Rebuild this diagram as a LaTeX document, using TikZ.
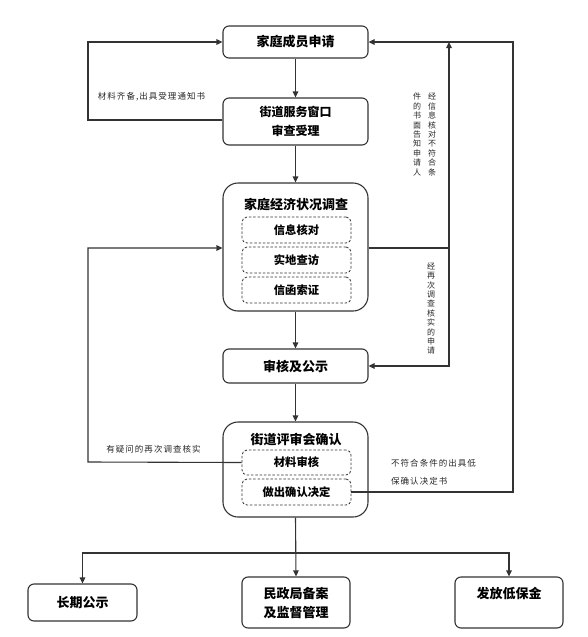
\documentclass[tikz,border=0pt]{standalone}
\usepackage{fontspec}
\newfontfamily\cjk{Noto Sans CJK SC}
\newfontfamily\cjklab{Noto Sans CJK SC}[LetterSpace=12]
\usetikzlibrary{arrows.meta}
\definecolor{ln}{HTML}{333333}
\tikzset{
  box/.style={draw=ln, line width=1.1pt, rounded corners=6pt, fill=white, align=center,
    font=\cjk\bfseries\fontsize{13}{19}\selectfont, inner sep=0pt},
  bigbox/.style={box, rounded corners=15pt},
  subbox/.style={draw=ln, line width=0.8pt, dashed, dash pattern=on 2.5pt off 1.8pt, rounded corners=5pt,
    minimum width=109pt, inner sep=0pt, font=\cjk\bfseries\fontsize{11.3}{14}\selectfont},
  title/.style={font=\cjk\bfseries\fontsize{13}{16}\selectfont, inner sep=0pt},
  lab/.style={font=\cjklab\fontsize{8.5}{18}\selectfont, inner sep=0pt, text=black!85},
  vlab/.style={font=\cjk\fontsize{8}{9.4}\selectfont, inner sep=0pt, align=center, text=black!85},
  conn/.style={draw=ln, line width=1.1pt},
  arr/.style={conn, -{Triangle[length=6pt,width=5.5pt]}},
}
\begin{document}
\begin{tikzpicture}[x=1pt,y=-1pt]
\useasboundingbox (0,0) rectangle (587,637);
% boxes
\node[box, minimum width=145pt, minimum height=32pt] (b1) at (295.5,42) {家庭成员申请};
\node[box, minimum width=145pt, minimum height=47pt, font=\cjk\bfseries\fontsize{12}{19}\selectfont] (b2) at (295.5,121.5) {街道服务窗口\\审查受理};
\node[bigbox, minimum width=145pt, minimum height=128pt] (b3) at (295.5,247) {};
\node[title] (t3) at (296,204) {家庭经济状况调查};
\node[subbox, minimum height=26pt] (s1) at (296.5,230) {信息核对};
\node[subbox, minimum height=26pt] (s2) at (296.5,260) {实地查访};
\node[subbox, minimum height=26pt] (s3) at (296.5,290) {信函索证};
\node[box, minimum width=145pt, minimum height=34pt] (b4) at (295.5,366) {审核及公示};
\node[bigbox, minimum width=145pt, minimum height=95pt] (b5) at (295.5,469.5) {};
\node[title] (t5) at (296,440) {街道评审会确认};
\node[subbox, minimum height=25pt] (s4) at (296.5,462.5) {材料审核};
\node[subbox, minimum height=26pt] (s5) at (296.5,492) {做出确认决定};
\node[box, minimum width=109pt, minimum height=37pt] (b6) at (82.5,602.5) {长期公示};
\node[box, minimum width=108pt, minimum height=51pt] (b7) at (296,602.5) {民政局备案\\及监督管理};
\node[box, minimum width=108pt, minimum height=51pt] (b8) at (509,602.5) {};
\node[title] (t8) at (509,594) {发放低保金};
% coordinates
\coordinate (cL1) at (88,120);
\coordinate (cL2) at (88,42);
\coordinate (cL3) at (88,462);
\coordinate (cL4) at (88,248);
\coordinate (cR1) at (449,248);
\coordinate (cR2) at (449,42);
\coordinate (cR3) at (449,366);
\coordinate (cF1) at (513,492);
\coordinate (cF2) at (513,42);
\coordinate (j) at (296,553);
% main flow
\draw[arr] (b1.south) -- (b2.north);
\draw[arr] (b2.south) -- (b3.north);
\draw[arr] (b3.south) -- (b4.north);
\draw[arr] (b4.south) -- (b5.north);
\draw[arr] (b5.south) -- (b7.north);
\draw[arr] (j) -| (b6.north);
\draw[arr] (j) -| (b8.north);
% left loops
\draw[arr] (b2.west |- cL1) -- (cL1) -- (cL2) -- (b1.west);
\draw[arr] (s4.west) -- (cL3) -- (cL4) -- (b3.west |- cL4);
% right loops
\draw[conn] (b3.east |- cR1) -- (cR1);
\draw[arr] (cR1) -- (cR2);
\draw[arr] (cR1) -- (cR3) -- (b4.east);
\draw[arr] (s5.east) -- (cF1) -- (cF2) -- (b1.east);
% labels
\node[lab] (l1) at (151.5,97) {材料齐备,出具受理通知书};
\node[lab] (l2) at (153.5,449) {有疑问的再次调查核实};
\node[lab, align=left, anchor=west] (l3) at (391,472) {不符合条件的出具低\\保确认决定书};
\node[vlab] (v1) at (432,134.5) {经\\信\\息\\核\\对\\不\\符\\合\\条};
\node[vlab] (v2) at (417,134.5) {件\\的\\书\\面\\告\\知\\申\\请\\人};
\node[vlab] (v3) at (431,308.5) {经\\再\\次\\调\\查\\核\\实\\的\\申\\请};
\end{tikzpicture}
\end{document}
